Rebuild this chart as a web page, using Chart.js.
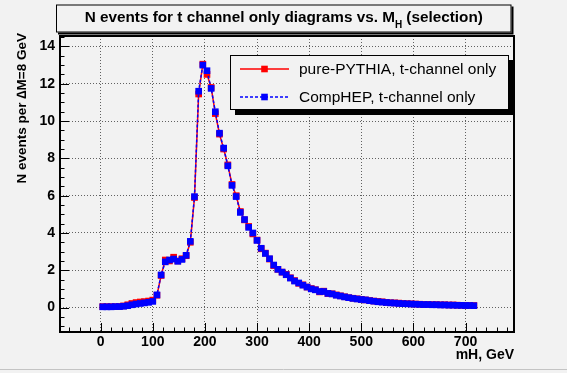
<!DOCTYPE html>
<html><head><meta charset="utf-8">
<script src="https://cdn.jsdelivr.net/npm/chart.js@4"></script>
<style>html,body{margin:0;padding:0;background:#f2f2f2;}canvas{display:block;}</style>
</head><body>
<canvas id="c" width="567" height="373" style="width:567px;height:373px"></canvas>
<script>
// ---- data (bin centres, GeV; events per 8 GeV bin) ----
const massGeV = [4,12,20,28,36,44,52,60,68,76,84,92,100,108,116,124,132,140,148,156,164,172,180,188,196,204,212,220,228,236,244,252,260,268,276,284,292,300,308,316,324,332,340,348,356,364,372,380,388,396,404,412,420,428,436,444,452,460,468,476,484,492,500,508,516,524,532,540,548,556,564,572,580,588,596,604,612,620,628,636,644,652,660,668,676,684,692,700,708,716];
const pythia = [0.05,0.05,0.05,0.05,0.06,0.09,0.15,0.22,0.27,0.30,0.32,0.35,0.40,0.66,1.72,2.55,2.50,2.70,2.50,2.62,2.78,3.50,5.90,11.45,13.05,12.50,11.80,10.40,9.30,8.50,7.65,6.60,6.00,5.15,4.70,4.35,3.95,3.62,3.15,2.92,2.60,2.25,2.05,1.90,1.78,1.60,1.45,1.30,1.22,1.10,1.02,0.96,0.84,0.88,0.75,0.74,0.68,0.63,0.58,0.53,0.50,0.47,0.44,0.41,0.38,0.35,0.33,0.31,0.28,0.26,0.25,0.24,0.22,0.21,0.20,0.19,0.18,0.17,0.17,0.16,0.16,0.15,0.15,0.14,0.14,0.13,0.12,0.12,0.11,0.11];
const comphep = [0.04,0.04,0.04,0.05,0.05,0.07,0.10,0.15,0.19,0.22,0.25,0.28,0.33,0.68,1.75,2.45,2.55,2.60,2.48,2.58,2.80,3.55,5.95,11.60,13.00,12.70,11.75,10.50,9.35,8.55,7.60,6.55,5.95,5.10,4.72,4.30,4.00,3.60,3.18,2.90,2.62,2.28,2.05,1.90,1.76,1.58,1.42,1.32,1.20,1.10,1.00,0.95,0.86,0.86,0.76,0.73,0.66,0.62,0.57,0.53,0.49,0.46,0.43,0.41,0.37,0.34,0.31,0.29,0.27,0.25,0.24,0.22,0.21,0.20,0.19,0.18,0.17,0.16,0.16,0.15,0.15,0.14,0.14,0.13,0.13,0.12,0.12,0.11,0.11,0.10];
const xTickValues = [0,100,200,300,400,500,600,700];
const yTickValues = [0,2,4,6,8,10,12,14];
const seriesNames = ['pure-PYTHIA, t-channel only','CompHEP, t-channel only'];
const titleMain = 'N events for t channel only diagrams vs. M';
const titleSub = 'H';
const titleTail = ' (selection)';
const xTitle = 'mH, GeV';
const yTitle = 'N events per \u2206M=8 GeV';

const BG = '#f2f2f2';
const FONT = '"Liberation Sans", Arial, Helvetica, sans-serif';

const deco = {
  id: 'deco',
  beforeDraw(chart) {
    const c = chart.ctx;
    c.save(); c.fillStyle = BG; c.fillRect(0, 0, chart.width, chart.height);
    c.strokeStyle = '#c4c4c4'; c.lineWidth = 1;
    c.beginPath(); c.moveTo(0, 369.5); c.lineTo(567, 369.5); c.stroke();
    c.restore();
  },
  afterDraw(chart) {
    const c = chart.ctx, a = chart.chartArea, xs = chart.scales.x, ys = chart.scales.y;
    c.save();
    // inner ticks
    c.strokeStyle = '#000'; c.lineWidth = 1; c.setLineDash([]);
    c.beginPath();
    for (let v = -60; v <= 780; v += 20) {
      const px = Math.round(xs.getPixelForValue(v)) + 0.5;
      const len = (v % 100 === 0) ? 9 : 4.5;
      c.moveTo(px, a.bottom); c.lineTo(px, a.bottom - len);
    }
    for (let v = -1; v <= 14.5; v += 0.5) {
      const py = Math.round(ys.getPixelForValue(v)) + 0.5;
      const len = (Math.abs(v % 2) < 1e-9) ? 9 : 4.5;
      c.moveTo(a.left, py); c.lineTo(a.left + len, py);
    }
    c.stroke();
    // frame
    c.lineWidth = 2;
    c.strokeRect(a.left, a.top, a.right - a.left, a.bottom - a.top);

    // axis titles
    c.fillStyle = '#000';
    c.font = 'bold 14px ' + FONT;
    c.textAlign = 'right'; c.textBaseline = 'middle';
    c.fillText(xTitle, a.right, 355);
    c.save();
    c.translate(22, 33); c.rotate(-Math.PI / 2);
    c.font = 'bold 13.5px ' + FONT;
    c.textAlign = 'right'; c.textBaseline = 'middle';
    c.fillText(yTitle, 0, 0);
    c.restore();

    // title box
    const tb = {x: 56, y: 4.5, w: 455.5, h: 28};
    c.fillStyle = '#000'; c.fillRect(tb.x + 2, tb.y + 2, tb.w, tb.h);
    c.fillStyle = BG; c.fillRect(tb.x, tb.y, tb.w, tb.h);
    c.strokeStyle = '#000'; c.lineWidth = 1; c.strokeRect(tb.x + 0.5, tb.y + 0.5, tb.w - 1, tb.h - 1);
    const fMain = 'bold 15.3px ' + FONT, fSub = 'bold 10px ' + FONT;
    c.font = fMain; const w1 = c.measureText(titleMain).width, w3 = c.measureText(titleTail).width;
    c.font = fSub; const w2 = c.measureText(titleSub).width;
    let tx = tb.x + tb.w / 2 - (w1 + w2 + w3) / 2;
    c.fillStyle = '#000'; c.textAlign = 'left'; c.textBaseline = 'alphabetic';
    c.font = fMain; c.fillText(titleMain, tx, 21.5); tx += w1;
    c.font = fSub; c.fillText(titleSub, tx, 27.5); tx += w2;
    c.font = fMain; c.fillText(titleTail, tx, 21.5);

    // legend
    const lb = {x: 230, y: 55, w: 279, h: 55};
    c.fillStyle = '#000'; c.fillRect(lb.x + 5, lb.y + 5, lb.w, lb.h);
    c.fillStyle = BG; c.fillRect(lb.x, lb.y, lb.w, lb.h);
    c.strokeRect(lb.x + 0.5, lb.y + 0.5, lb.w - 1, lb.h - 1);
    const rows = [69, 97];
    chart.data.datasets.forEach((ds) => {
      const i = seriesNames.indexOf(ds.label);
      const y = rows[i];
      c.strokeStyle = ds.borderColor; c.lineWidth = 1.5; c.setLineDash(ds.borderDash || []);
      c.beginPath(); c.moveTo(240, y); c.lineTo(289, y); c.stroke();
      c.setLineDash([]);
      c.fillStyle = ds.pointBackgroundColor;
      c.fillRect(264.5 - 3.3, y - 3.3, 6.6, 6.6);
      c.fillStyle = '#000'; c.font = '15.5px ' + FONT; c.textAlign = 'left'; c.textBaseline = 'middle';
      c.fillText(ds.label, 299, rows[i] + 1);
    });
    c.restore();
  }
};

const pts = (vals) => massGeV.map((m, i) => ({x: m, y: vals[i]}));
const common = {showLine: true, borderWidth: 1.5, pointStyle: 'rect', pointRadius: 4.7, pointHoverRadius: 4.7, pointBorderWidth: 0, fill: false, tension: 0};

new Chart(document.getElementById('c'), {
  type: 'line',
  data: {
    datasets: [
      Object.assign({label: seriesNames[1], data: pts(comphep), borderColor: '#0000ff', pointBackgroundColor: '#0000ff', borderDash: [3, 2], order: 0}, common),
      Object.assign({label: seriesNames[0], data: pts(pythia), borderColor: '#ff0000', pointBackgroundColor: '#ff0000', order: 1}, common)
    ]
  },
  options: {
    responsive: false, animation: false, events: [],
    layout: {padding: {left: 0, top: 36, right: 53, bottom: 0}},
    plugins: {legend: {display: false}, title: {display: false}, tooltip: {enabled: false}},
    scales: {
      x: {
        type: 'linear', min: -78, max: 793,
        afterBuildTicks: (s) => { s.ticks = xTickValues.map(v => ({value: v})); },
        afterFit: (s) => { s.height = 41; },
        grid: {color: 'rgba(0,0,0,0.6)', lineWidth: 1, drawTicks: false},
        border: {display: false, dash: [1, 2]},
        ticks: {padding: 2, color: '#000', font: {family: FONT, weight: 'bold', size: 14}, maxRotation: 0, autoSkip: false}
      },
      y: {
        type: 'linear', min: -1.31, max: 14.56,
        afterBuildTicks: (s) => { s.ticks = yTickValues.map(v => ({value: v})); },
        afterFit: (s) => { s.width = 60; },
        grid: {color: 'rgba(0,0,0,0.6)', lineWidth: 1, drawTicks: false},
        border: {display: false, dash: [1, 2]},
        ticks: {padding: 5, color: '#000', font: {family: FONT, weight: 'bold', size: 14}, autoSkip: false}
      }
    }
  },
  plugins: [deco]
});
</script>
</body></html>
